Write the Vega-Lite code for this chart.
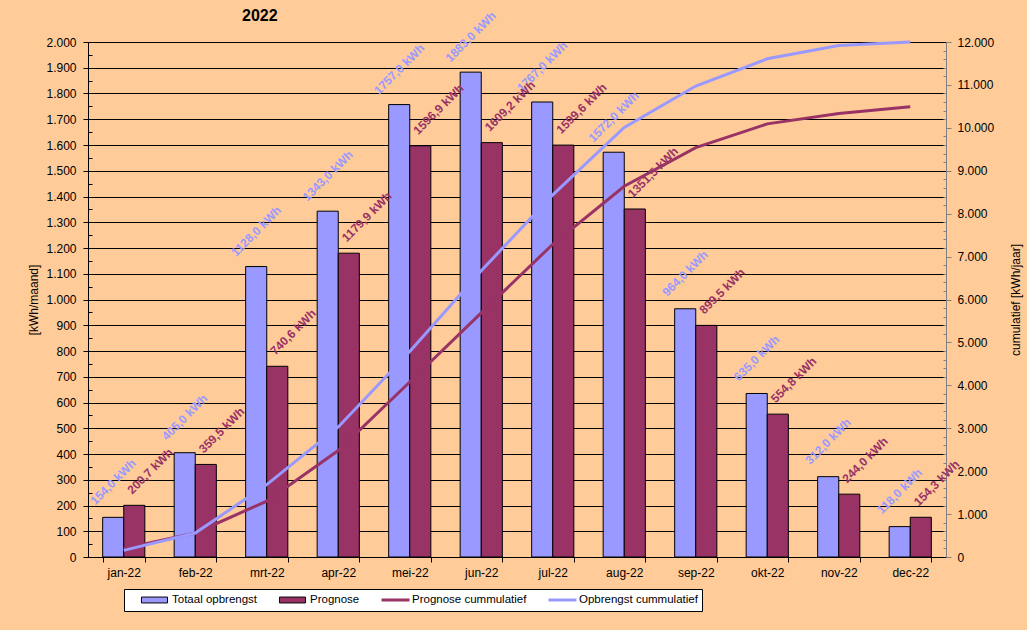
{
  "$schema": "https://vega.github.io/schema/vega-lite/v6.json",
  "width": 858,
  "height": 515,
  "autosize": {"type": "none"},
  "padding": {"left": 88, "top": 42, "right": 81, "bottom": 73},
  "background": "#FFCC99",
  "title": {
    "text": "2022",
    "anchor": "start",
    "frame": "group",
    "dx": 154,
    "dy": 31,
    "offset": 0,
    "baseline": "bottom",
    "fontSize": 16,
    "fontWeight": "bold",
    "color": "black"
  },
  "data": {
    "values": [
      {"maand": "jan-22", "Totaal opbrengst": 154, "Prognose": 200.7, "Prognose cummulatief": 200.7, "Opbrengst cummulatief": 154},
      {"maand": "feb-22", "Totaal opbrengst": 405, "Prognose": 359.5, "Prognose cummulatief": 560.2, "Opbrengst cummulatief": 559},
      {"maand": "mrt-22", "Totaal opbrengst": 1128, "Prognose": 740.6, "Prognose cummulatief": 1300.8, "Opbrengst cummulatief": 1687},
      {"maand": "apr-22", "Totaal opbrengst": 1343, "Prognose": 1179.9, "Prognose cummulatief": 2480.7, "Opbrengst cummulatief": 3030},
      {"maand": "mei-22", "Totaal opbrengst": 1757, "Prognose": 1596.9, "Prognose cummulatief": 4077.6, "Opbrengst cummulatief": 4787},
      {"maand": "jun-22", "Totaal opbrengst": 1883, "Prognose": 1609.2, "Prognose cummulatief": 5686.8, "Opbrengst cummulatief": 6670},
      {"maand": "jul-22", "Totaal opbrengst": 1767, "Prognose": 1599.6, "Prognose cummulatief": 7286.4, "Opbrengst cummulatief": 8437},
      {"maand": "aug-22", "Totaal opbrengst": 1572, "Prognose": 1351.5, "Prognose cummulatief": 8637.9, "Opbrengst cummulatief": 10009},
      {"maand": "sep-22", "Totaal opbrengst": 964, "Prognose": 899.5, "Prognose cummulatief": 9537.4, "Opbrengst cummulatief": 10973},
      {"maand": "okt-22", "Totaal opbrengst": 635, "Prognose": 554.8, "Prognose cummulatief": 10092.2, "Opbrengst cummulatief": 11608},
      {"maand": "nov-22", "Totaal opbrengst": 312, "Prognose": 244.0, "Prognose cummulatief": 10336.2, "Opbrengst cummulatief": 11920},
      {"maand": "dec-22", "Totaal opbrengst": 118, "Prognose": 154.3, "Prognose cummulatief": 10490.5, "Opbrengst cummulatief": 12000}
    ]
  },
  "encoding": {
    "x": {
      "field": "maand",
      "type": "nominal",
      "sort": null,
      "scale": {"paddingInner": 0.41, "paddingOuter": 0.205},
      "axis": {
        "title": null,
        "labelAngle": 0,
        "tickBand": "extent",
        "tickSize": 5,
        "labelPadding": 5,
        "grid": false
      }
    }
  },
  "layer": [
    {
      "transform": [{"fold": ["Totaal opbrengst", "Prognose"], "as": ["serie", "kwh"]}],
      "mark": {"type": "bar", "stroke": "black", "strokeWidth": 1},
      "encoding": {
        "xOffset": {"field": "serie", "type": "nominal", "scale": {"domain": ["Totaal opbrengst", "Prognose"], "paddingInner": 0, "paddingOuter": 0}},
        "y": {
          "field": "kwh",
          "type": "quantitative",
          "scale": {"domain": [0, 2000], "nice": false},
          "axis": {
            "orient": "left",
            "title": "[kWh/maand]",
            "tickCount": 40,
            "labelOverlap": false,
            "labelFlush": false,
            "labelPadding": 7,
            "labelExpr": "datum.value % 100 == 0 ? replace(format(datum.value, ','), ',', '.') : ''",
            "grid": true,
            "gridColor": "black",
            "gridOpacity": {"condition": {"test": "datum.value % 100 == 0", "value": 1}, "value": 0},
            "tickSize": {"condition": {"test": "datum.value % 100 == 0", "value": 5}, "value": -4},
            "titlePadding": 5
          }
        },
        "fill": {
          "field": "serie",
          "type": "nominal",
          "scale": {"domain": ["Totaal opbrengst", "Prognose"], "range": ["#9999FF", "#993366"]},
          "legend": {
            "orient": "none",
            "legendX": 36,
            "legendY": 547,
            "direction": "horizontal",
            "title": null,
            "padding": 4,
            "symbolOffset": 12,
            "labelOffset": 1,
            "columnPadding": 96,
            "symbolType": "M-0.93,-0.21H0.93V0.21H-0.93Z",
            "symbolSize": 784,
            "symbolStrokeColor": "black",
            "symbolStrokeWidth": 1,
            "symbolOpacity": 1,
            "clipHeight": 14,
            "labelFontSize": 11.5,
            "labelExpr": "''",
            "zindex": 1
          }
        }
      }
    },
    {
      "transform": [{"fold": ["Prognose cummulatief", "Opbrengst cummulatief"], "as": ["serie", "cum"]}],
      "mark": {"type": "line", "strokeWidth": 3},
      "encoding": {
        "y": {
          "field": "cum",
          "type": "quantitative",
          "scale": {"domain": [0, 12000], "nice": false},
          "axis": {
            "orient": "right",
            "title": "cumulatief [kWh/jaar]",
            "titleAngle": 270,
            "titlePadding": 29,
            "tickCount": 60,
            "labelOverlap": false,
            "labelFlush": false,
            "labelPadding": 6,
            "labelExpr": "datum.value % 1000 == 0 ? replace(format(datum.value, ','), ',', '.') : ''",
            "grid": false,
            "domainColor": "#808080",
            "tickColor": "#808080",
            "tickSize": {"condition": {"test": "datum.value % 1000 == 0", "value": 5}, "value": -3}
          }
        },
        "stroke": {
          "field": "serie",
          "type": "nominal",
          "scale": {
            "domain": ["Totaal opbrengst", "Prognose", "Prognose cummulatief", "Opbrengst cummulatief"],
            "range": ["transparent", "transparent", "#993366", "#9999FF"]
          },
          "legend": {
            "orient": "none",
            "legendX": 36,
            "legendY": 547,
            "direction": "horizontal",
            "title": null,
            "fillColor": "white",
            "strokeColor": "black",
            "padding": 4,
            "symbolOffset": 12,
            "labelOffset": 1,
            "columnPadding": 8,
            "symbolType": "stroke",
            "symbolSize": 784,
            "symbolStrokeWidth": 3,
            "symbolOpacity": 1,
            "clipHeight": 14,
            "labelFontSize": 11.5,
            "labelColor": "black",
            "labelLimit": 300,
            "zindex": 0
          }
        }
      }
    },
    {
      "transform": [
        {"fold": ["Totaal opbrengst"], "as": ["serie", "kwh"]},
        {"calculate": "replace(format(datum.kwh, '.1f'), '.', ',') + ' kWh'", "as": "label"}
      ],
      "mark": {
        "type": "text",
        "angle": 315,
        "align": "center",
        "baseline": "middle",
        "dx": 25,
        "dy": -25,
        "fontSize": 12,
        "fontWeight": "bold",
        "color": "#9999FF"
      },
      "encoding": {
        "xOffset": {"field": "serie", "type": "nominal", "scale": {"domain": ["Totaal opbrengst", "Prognose"], "paddingInner": 0, "paddingOuter": 0}},
        "y": {"field": "kwh", "type": "quantitative", "scale": {"domain": [0, 2000], "nice": false}, "axis": null},
        "text": {"field": "label"}
      }
    },
    {
      "transform": [
        {"fold": ["Prognose"], "as": ["serie", "kwh"]},
        {"calculate": "replace(format(datum.kwh, '.1f'), '.', ',') + ' kWh'", "as": "label"}
      ],
      "mark": {
        "type": "text",
        "angle": 315,
        "align": "left",
        "baseline": "alphabetic",
        "dx": 6,
        "dy": -9,
        "fontSize": 12,
        "fontWeight": "bold",
        "color": "#993366"
      },
      "encoding": {
        "xOffset": {"field": "serie", "type": "nominal", "scale": {"domain": ["Totaal opbrengst", "Prognose"], "paddingInner": 0, "paddingOuter": 0}},
        "y": {"field": "kwh", "type": "quantitative", "scale": {"domain": [0, 2000], "nice": false}, "axis": null},
        "text": {"field": "label"}
      }
    }
  ],
  "resolve": {"scale": {"y": "independent"}},
  "config": {
    "font": "Liberation Sans",
    "locale": {"number": {"decimal": ",", "thousands": ".", "grouping": [3], "currency": ["€", ""]}},
    "view": {"stroke": null},
    "axis": {
      "labelFont": "Liberation Sans",
      "labelFontSize": 12,
      "labelColor": "black",
      "titleFont": "Liberation Sans",
      "titleFontSize": 12,
      "titleFontWeight": "normal",
      "titleColor": "black",
      "domainColor": "black",
      "tickColor": "black"
    },
    "legend": {"labelFont": "Liberation Sans"}
  }
}
